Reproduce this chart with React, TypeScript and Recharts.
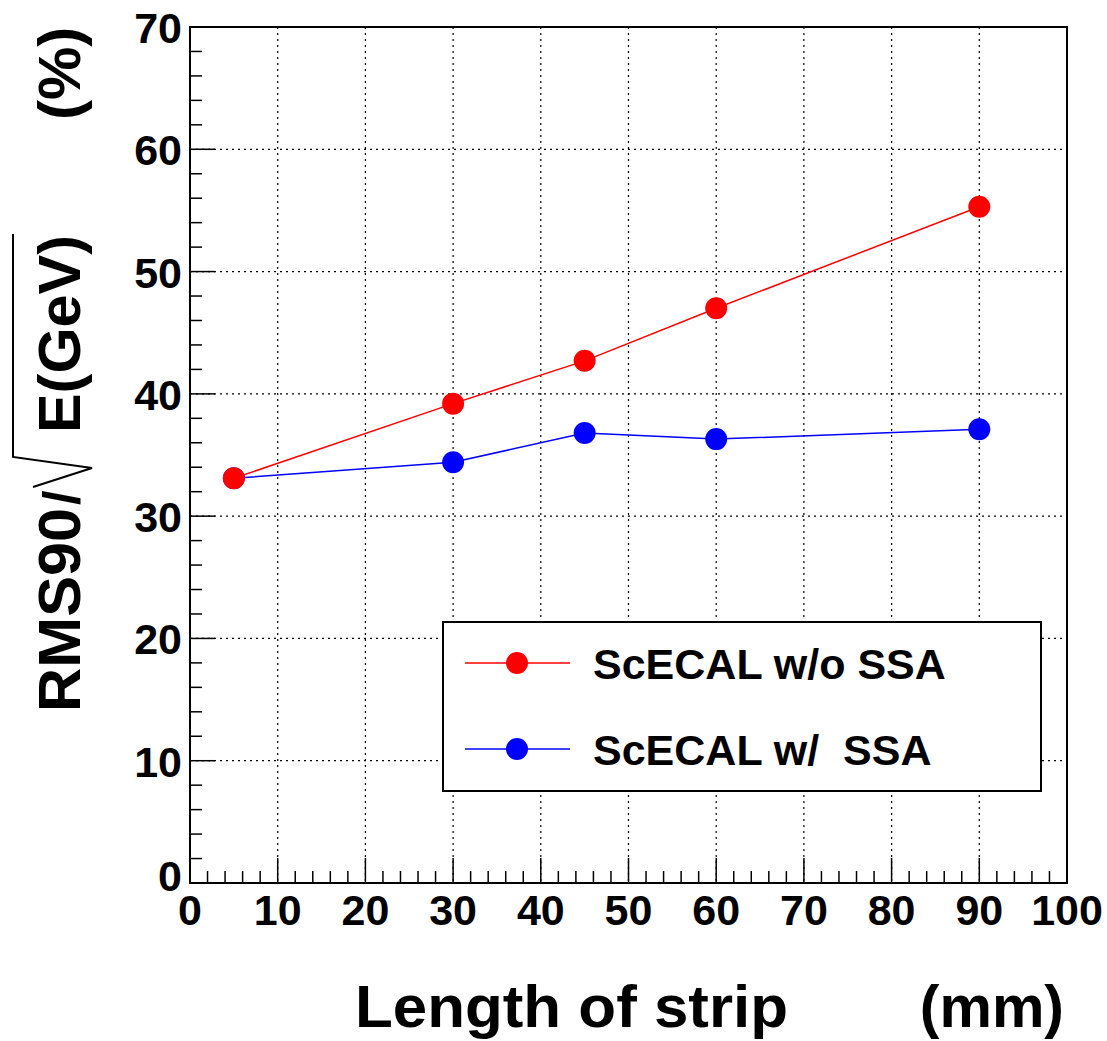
import React from "react";
import { LineChart, Line, XAxis, YAxis, CartesianGrid, Legend, ReferenceArea } from "recharts";

// strip length (mm)
const lengths = [5, 30, 45, 60, 90];
// RMS90 / sqrt(E) (%)
const withoutSSA = [33.1, 39.2, 42.7, 47.0, 55.3];
const withSSA = [33.1, 34.4, 36.8, 36.3, 37.1];

const xTicks = Array.from({ length: 51 }, (_, i) => i * 2);
const yTicks = Array.from({ length: 36 }, (_, i) => i * 2);
const xMajor = [10, 20, 30, 40, 50, 60, 70, 80, 90];
const yMajor = [10, 20, 30, 40, 50, 60];

const seriesNames = ["ScECAL w/o SSA", "ScECAL w/  SSA"];
const seriesColors = ["#ff0000", "#0000ff"];

const FONT = "'Liberation Sans', Arial, Helvetica, sans-serif";

const data = lengths.map((x, i) => ({ x, noSSA: withoutSSA[i], ssa: withSSA[i] }));

function XTick(props: any) {
  const { x, y, payload } = props;
  const major = payload.value % 10 === 0;
  return (
    <g>
      <line x1={x} x2={x} y1={y} y2={y - (major ? 25 : 12)} stroke="#000" strokeWidth={1.5} />
      {major && (
        <text x={x} y={y + 42} textAnchor="middle" fontFamily={FONT} fontWeight="bold" fontSize={43} fill="#000">
          {payload.value}
        </text>
      )}
    </g>
  );
}

function YTick(props: any) {
  const { x, y, payload } = props;
  const major = payload.value % 10 === 0;
  return (
    <g>
      <line x1={x} x2={x + (major ? 25 : 12)} y1={y} y2={y} stroke="#000" strokeWidth={1.5} />
      {major && (
        <text x={x - 8} y={payload.value === 0 ? y + 8 : y + 16} textAnchor="end" fontFamily={FONT} fontWeight="bold" fontSize={43} fill="#000">
          {payload.value}
        </text>
      )}
    </g>
  );
}

function XTitle(props: any) {
  const vb = props.viewBox;
  const base = vb.y + 144;
  return (
    <g fontFamily={FONT} fontWeight="bold" fontSize={59} fill="#000">
      <text x={vb.x + 165} y={base} textLength={433} lengthAdjust="spacingAndGlyphs">Length of strip</text>
      <text x={vb.x + vb.width - 3} y={base} textAnchor="end">(mm)</text>
    </g>
  );
}

function YTitle(props: any) {
  const vb = props.viewBox;
  const ox = vb.x - 30;
  const oy = vb.y + vb.height - 171;
  return (
    <g transform={`translate(${ox},${oy}) rotate(-90)`} fontFamily={FONT} fontWeight="bold" fontSize={60} fill="#000">
      <text x={0} y={0} textLength={204} lengthAdjust="spacingAndGlyphs">RMS90</text>
      <text x={207} y={0} fontSize={52}>/</text>
      <path d="M 225 -47 L 244 12 L 255 -67 L 478 -67" fill="none" stroke="#000" strokeWidth={2} />
      <text x={279} y={0} textLength={198} lengthAdjust="spacingAndGlyphs">E(GeV)</text>
      <text x={592} y={0}>(%)</text>
    </g>
  );
}

function LegendBox() {
  return (
    <div
      style={{
        width: 596,
        height: 167,
        background: "#fff",
        border: "2px solid #000",
      }}
    >
      <svg width={596} height={167} style={{ display: "block" }}>
        {seriesNames.map((name, i) => {
          const cy = i === 0 ? 40 : 126;
          return (
            <g key={name}>
              <line x1={21} x2={126} y1={cy} y2={cy} stroke={seriesColors[i]} strokeWidth={1.5} />
              <circle cx={73} cy={cy} r={11} fill={seriesColors[i]} />
              <text x={149} y={cy + 16} fontFamily={FONT} fontWeight="bold" fontSize={43} fill="#000" style={{ whiteSpace: "pre" }}>
                {name}
              </text>
            </g>
          );
        })}
      </svg>
    </div>
  );
}

export default function App() {
  return (
    <div style={{ position: "absolute", left: 0, top: 0, width: 1107, height: 1041, background: "#fff" }}>
      <LineChart width={1107} height={1041} data={data} margin={{ top: 27, right: 40, left: 110, bottom: 0 }}>
        <CartesianGrid
          stroke="#000"
          strokeWidth={1.2}
          strokeDasharray="2 4"
          horizontalValues={yMajor}
          verticalValues={xMajor}
        />
        <XAxis
          dataKey="x"
          type="number"
          domain={[0, 100]}
          ticks={xTicks}
          interval={0}
          height={158}
          tickSize={0}
          tickMargin={0}
          tickLine={false}
          axisLine={false}
          tick={<XTick />}
          label={{ content: XTitle }}
        />
        <YAxis
          type="number"
          domain={[0, 70]}
          ticks={yTicks}
          interval={0}
          width={80}
          tickSize={0}
          tickMargin={0}
          tickLine={false}
          axisLine={false}
          tick={<YTick />}
          label={{ content: YTitle }}
        />
        <ReferenceArea x1={0} x2={100} y1={0} y2={70} fill="none" stroke="#000" strokeWidth={2} />
        <Legend
          content={<LegendBox />}
          layout="vertical"
          align="center"
          verticalAlign="middle"
          wrapperStyle={{ position: "absolute", left: 442, top: 621, width: 600, height: 171 }}
        />
        <Line
          dataKey="ssa"
          name={seriesNames[1]}
          stroke={seriesColors[1]}
          strokeWidth={1.5}
          dot={{ r: 11, fill: seriesColors[1], stroke: seriesColors[1], strokeWidth: 0 }}
          isAnimationActive={false}
        />
        <Line
          dataKey="noSSA"
          name={seriesNames[0]}
          stroke={seriesColors[0]}
          strokeWidth={1.5}
          dot={{ r: 11, fill: seriesColors[0], stroke: seriesColors[0], strokeWidth: 0 }}
          isAnimationActive={false}
        />
      </LineChart>
    </div>
  );
}
